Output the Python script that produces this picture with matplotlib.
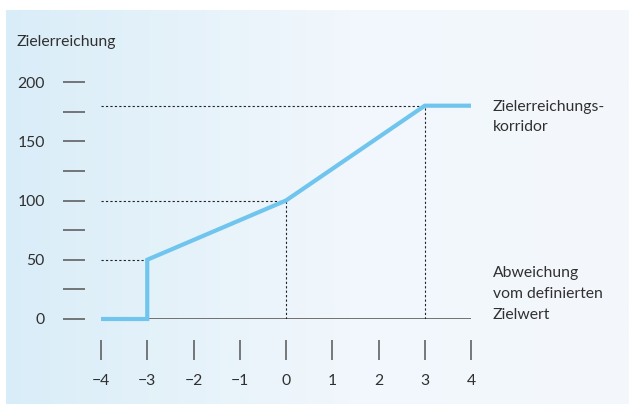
import numpy as np
import matplotlib
matplotlib.use('Agg')
import matplotlib.pyplot as plt
from matplotlib.colors import LinearSegmentedColormap

plt.rcParams['font.family'] = ['Lato', 'DejaVu Sans']

# Zielerreichungskurve
abweichung = [-4, -3, -3, 0, 3, 4]
zielerreichung = [0, 0, 50, 100, 180, 180]
stuetzstellen = [(-3, 50), (0, 100), (3, 180)]

x_ticks = [-4, -3, -2, -1, 0, 1, 2, 3, 4]
y_ticks = [0, 25, 50, 75, 100, 125, 150, 175, 200]
y_labels = ['0', '', '50', '', '100', '', '150', '', '200']

BLUE = '#6fc5ee'
TXT = '#303030'
TICK = '#555555'
FS = 11.3

W, H = 629, 404
fig = plt.figure(figsize=(W / 100, H / 100), dpi=100)

# Hintergrund mit Verlauf
bg = fig.add_axes([6 / W, 0, 1 - 6 / W, 1 - 10 / H])
bg.set_axis_off()
cmap = LinearSegmentedColormap.from_list(
    'bg', [(0, '#d9edf8'), (0.55, '#f1f7fc'), (1, '#f4f8fd')])
grad = np.linspace(0, 1, 256)[None, :]
bg.imshow(grad, aspect='auto', cmap=cmap, extent=[0, 1, 0, 1])

ax = fig.add_axes([101 / W, (H - 319) / H, 370 / W, 237 / H])
ax.patch.set_alpha(0)
ax.set_xlim(-4, 4)
ax.set_ylim(0, 200)

for s in ['top', 'right']:
    ax.spines[s].set_visible(False)
ax.spines['left'].set_position(('outward', 11.5))
ax.spines['left'].set_visible(False)
ax.spines['bottom'].set_position(('outward', 15))
ax.spines['bottom'].set_visible(False)

ax.set_yticks(y_ticks)
ax.set_yticklabels(y_labels)
ax.set_xticks(x_ticks)
ax.set_xticklabels([str(v).replace('-', '\u2212') for v in x_ticks])
ax.tick_params(axis='y', direction='out', length=16, width=1.1, color=TICK,
               pad=13, labelsize=FS, labelcolor=TXT)
ax.tick_params(axis='x', direction='out', length=14.5, width=1.1, color=TICK,
               pad=10, labelsize=FS, labelcolor=TXT)

# Nulllinie
ax.axhline(0, color='#666666', lw=1.3, zorder=1)

# Hilfslinien
for xv, yv in stuetzstellen:
    ax.plot([-4, xv], [yv, yv], color='#222222', lw=0.8, ls=(0, (2, 2)), zorder=2)
    if xv >= 0:
        ax.plot([xv, xv], [0, yv], color='#222222', lw=0.8, ls=(0, (2, 2)), zorder=2)

ax.plot(abweichung, zielerreichung, color=BLUE, lw=3, solid_joinstyle='miter',
        solid_capstyle='butt', zorder=3, clip_on=False)

fig.text(17 / W, 1 - 42 / H, 'Zielerreichung', fontsize=FS, color=TXT,
         ha='left', va='center')
fig.text(493 / W, 1 - 117 / H, 'Zielerreichungs-\nkorridor', fontsize=FS,
         color=TXT, ha='left', va='center', linespacing=1.6)
fig.text(493 / W, 1 - 294 / H, 'Abweichung\nvom definierten\nZielwert',
         fontsize=FS, color=TXT, ha='left', va='center', linespacing=1.6)

fig.savefig('out.png', dpi=100)
